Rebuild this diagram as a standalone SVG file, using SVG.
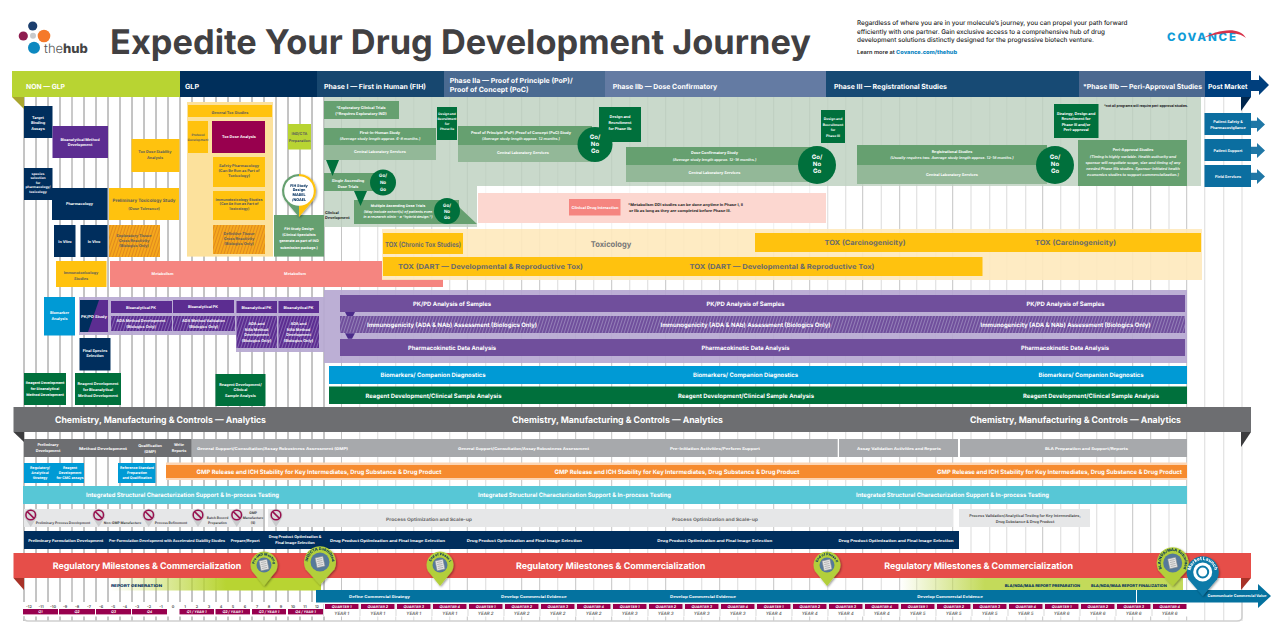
<svg xmlns="http://www.w3.org/2000/svg" xmlns:xlink="http://www.w3.org/1999/xlink" width="1280" height="636" viewBox="0 0 1280 636">
<style>
text{font-family:Inter,"Liberation Sans",sans-serif;font-weight:700;text-anchor:middle;font-size:3.8px;text-rendering:geometricPrecision}
.l{text-anchor:start}.w{fill:#fff}.d{fill:#5c5c5c}.k{fill:#222}.n{fill:#002e5d}.i{font-style:italic;font-weight:600}.b{font-weight:700}
.f5{font-size:5px}.f45{font-size:4.5px}.f35{font-size:3.6px}.f6{font-size:6px}.f7{font-size:7px}.f8{font-size:8px}.f9{font-size:9px}
.navy{fill:#002e5d}.pur{fill:#5c2d91}.yel{fill:#ffc20e}.grn{fill:#00703c}.mg{fill:#66a070}.lg{fill:#93b898}.blu{fill:#009ad5}.vio{fill:#704f9c}.mar{fill:#98004e}.sal{fill:#f58580}.gr{fill:#a7a9ac}.dg{fill:#6d6e71}.lgr{fill:#e6e7e8}.tl{fill:#0b6ea0}.tl2{fill:#1f77a6}.bar{fill:#04729f}
.hatO{fill:url(#hO)}.hatP{fill:url(#hP)}.hatV{fill:url(#hV)}
.qt{fill:#fff;font-size:3.6px;font-weight:700;font-style:italic}.yr{fill:#6a6a6a;font-size:4.4px;font-style:italic;font-weight:600}.rn{fill:#555;font-size:3.8px}
</style>
<defs>
<pattern id="hO" width="3" height="6" patternUnits="userSpaceOnUse" patternTransform="rotate(18)"><rect width="3" height="6" fill="#f5a81c"/><rect width="1" height="6" fill="#e08a1e"/></pattern>
<pattern id="hP" width="3" height="6" patternUnits="userSpaceOnUse" patternTransform="rotate(18)"><rect width="3" height="6" fill="#5c2d91"/><rect width="1" height="6" fill="#8466b0"/></pattern>
<pattern id="hV" width="3" height="6" patternUnits="userSpaceOnUse" patternTransform="rotate(18)"><rect width="3" height="6" fill="#704f9c"/><rect width="1" height="6" fill="#9480b8"/></pattern>
<linearGradient id="g1"><stop offset="0" stop-color="#b8d432" stop-opacity="0"/><stop offset=".55" stop-color="#b8d432"/></linearGradient>
<linearGradient id="g2"><stop offset="0" stop-color="#c3da5a" stop-opacity="0"/><stop offset=".3" stop-color="#c3da5a"/></linearGradient>
<filter id="sh" x="-30%" y="-30%" width="160%" height="160%"><feDropShadow dx="1" dy="1" stdDeviation="1.2" flood-color="#000" flood-opacity=".4"/></filter>
<path id="a1" d="M255.8 569.7A9.5 9.5 0 1 1 272.2 569.7"/>
<path id="a2" d="M309.6 568A12 12 0 1 1 330.4 568"/>
<path id="a3" d="M431.8 569.7A9.5 9.5 0 1 1 448.2 569.7"/>
<path id="a4" d="M818.8 569.7A9.5 9.5 0 1 1 835.2 569.7"/>
<path id="a5" d="M1162.3 569A12 12 0 1 1 1183.1 569"/>
<path id="a6" d="M1192.3 578A12 12 0 1 1 1213.1 578"/>
<g id="nopin"><path d="M-6.2 2.2A6.5 6.5 0 1 1 6.2 2.2L0 12Z" fill="#c9cacc"/><circle r="4.8" fill="#d9dadc" stroke="#98104e" stroke-width="1.5"/><path d="M-3.4-3.4L3.4 3.4" stroke="#98104e" stroke-width="1.5"/></g>
<g id="doc"><rect x="-4" y="-5" width="8" height="10" fill="#e4e4e4" stroke="#888" stroke-width=".5" transform="rotate(-12)"/><path d="M-2.6-3H2.6M-2.6-1H2.6M-2.6 1H2.6M-2.6 3H2.6" stroke="#999" stroke-width=".6" transform="rotate(-12)"/></g>
</defs>
<rect width="1280" height="636" fill="#fff"/>

<g id="grid" fill="none">
<path stroke="#8a8a8a" stroke-width="1" d="M24 97V621M36 97V621M48 97V621M60 97V621M84 97V621M96 97V621M108 97V621M120 97V621M132 97V621M144 97V621M156 97V621M168 97V621M180 97V621M192 97V621M204 97V621M216 97V621M228 97V621M240 97V621M252 97V621M264 97V621M276 97V621M288 97V621M300 97V621M312 97V621M324 97V621"/>
<path stroke="#bdbdbd" stroke-width="1.6" d="M72 97V621"/>
<path stroke="#c4c4c4" stroke-width="1" d="M341.5 97V621M467.3 97V621M521.7 97V621M539.7 97V621M575.7 97V621M611.7 97V621M665.7 97V621M719.7 97V621M773.7 97V621M809.7 97V621M862.7 97V621M899.7 97V621M952.7 97V621M1042.7 97V621M1132.7 97V621M1150.7 97V621M1186.7 97V621"/>
<path stroke="#e2e2e2" stroke-width="1.2" d="M359.7 97V621M377.7 97V621M395.7 97V621M413.7 97V621M431.7 97V621M449.7 97V621M485.7 97V621M503.7 97V621M557.7 97V621M593.7 97V621M629.7 97V621M647.7 97V621M683.7 97V621M701.7 97V621M737.7 97V621M755.7 97V621M791.7 97V621M827.7 97V621M845.7 97V621M881.3 97V621M916.7 97V621M935.7 97V621M971 97V621M989.7 97V621M1006.7 97V621M1025.7 97V621M1060.7 97V621M1079.3 97V621M1096.7 97V621M1115 97V621M1169 97V621M1204.7 97V621M1223.7 97V621M1242 97V621"/>
</g>

<g id="logo">
<circle cx="32.7" cy="26" r="4.6" fill="#1c3f6e"/><circle cx="44" cy="36" r="6.3" fill="#f5792a"/><circle cx="23.3" cy="36" r="4.6" fill="#8e1d4f"/><circle cx="33" cy="35.7" r="3" fill="#c8c9cb"/><circle cx="34" cy="47.7" r="6" fill="#0d88c0"/>
<text x="44" y="53" class="l" style="font-size:13px;font-weight:300;fill:#555">the<tspan style="font-weight:800;fill:#444">hub</tspan></text>
</g>
<text id="title" x="110" y="54" class="l" textLength="701" lengthAdjust="spacingAndGlyphs" style="font-size:34px;font-weight:700;fill:#414042">Expedite Your Drug Development Journey</text>
<g id="intro">
<text class="l k" x="857" y="25" textLength="270.5" lengthAdjust="spacingAndGlyphs" style="font-size:6.4px;font-weight:500">Regardless of where you are in your molecule’s journey, you can propel your path forward</text>
<text class="l k" x="857" y="33.5" textLength="248" lengthAdjust="spacingAndGlyphs" style="font-size:6.4px;font-weight:500">efficiently with one partner. Gain exclusive access to a comprehensive hub of drug</text>
<text class="l k" x="857" y="42" textLength="237" lengthAdjust="spacingAndGlyphs" style="font-size:6.4px;font-weight:500">development solutions distinctly designed for the progressive biotech venture.</text>
<text class="l k" x="857" y="54" textLength="100" lengthAdjust="spacingAndGlyphs" style="font-size:5.5px;font-weight:600">Learn more at <tspan style="fill:#0a85c2;font-weight:800">Covance.com/thehub</tspan></text>
</g>
<g id="covance">
<text x="1201.5" y="41" textLength="69" style="font-size:11.5px;font-weight:800;fill:#0f9bd7">COVANCE</text>
<path d="M1203 38C1216 31 1238 25 1246 38C1236 30 1218 33 1203 38Z" fill="#d8334a"/>
</g>

<g id="green-panel"><path d="M324 97H1201V186H477V227H324Z" fill="#bcd0be" fill-opacity=".8"/></g>
<g id="pink-panel"><rect x="477" y="186" width="350" height="43" fill="#fff" fill-opacity=".75"/><rect x="478" y="193" width="348" height="30" fill="#fcd5cd" fill-opacity=".95"/>
<text class="l k" x="628" y="206" textLength="115" lengthAdjust="spacingAndGlyphs">*Metabolism DDI studies can be done anytime in Phase I, II</text>
<text class="l k" x="629" y="211.5" textLength="102" lengthAdjust="spacingAndGlyphs">or IIb as long as they are completed before Phase III.</text></g>
<g id="clinical-drug-interaction"><rect class="sal" x="569" y="199" width="51.5" height="16.5"/><text class="w" x="595" y="208.5" textLength="47" lengthAdjust="spacingAndGlyphs">Clinical Drug Interaction</text></g>

<g id="header">
<rect x="12" y="71" width="168" height="26" fill="#b8d432"/><rect x="180" y="71" width="137" height="26" fill="#002f5b"/><rect x="317" y="71" width="127" height="26" fill="#17476f"/><rect x="444" y="71" width="161" height="26" fill="#4a6a91"/><rect x="605" y="71" width="221" height="26" fill="#647ba3"/><rect x="826" y="71" width="253" height="26" fill="#174a74"/><rect x="1079" y="71" width="126" height="26" fill="#4c6990"/><rect x="1205" y="71" width="46" height="26" fill="#003f7d"/>
<path d="M1251 80H1259V75L1269 85L1259 95V91H1251Z" fill="#003f7d"/>
<path d="M12 97H24V109Z" fill="#a9a62e"/><path d="M1241 97H1251L1241 111Z" fill="#00264d"/>
<text class="l w f7 b" x="26" y="89" textLength="39" lengthAdjust="spacingAndGlyphs">NON — GLP</text>
<text class="l w f7 b" x="185" y="89" textLength="14" lengthAdjust="spacingAndGlyphs">GLP</text>
<text class="l w f7 b" x="324" y="89" textLength="102" lengthAdjust="spacingAndGlyphs">Phase I — First in Human (FIH)</text>
<text class="l w f7 b" x="449.7" y="83" textLength="123" lengthAdjust="spacingAndGlyphs">Phase IIa — Proof of Principle (PoP)/</text>
<text class="l w f7 b" x="449.7" y="91.5" textLength="79" lengthAdjust="spacingAndGlyphs">Proof of Concept (PoC)</text>
<text class="l w f7 b" x="612.7" y="89" textLength="104.5" lengthAdjust="spacingAndGlyphs">Phase IIb — Dose Confirmatory</text>
<text class="l w f7 b" x="834" y="89" textLength="113" lengthAdjust="spacingAndGlyphs">Phase III — Registrational Studies</text>
<text class="l w f7 b" x="1083" y="89" textLength="119" lengthAdjust="spacingAndGlyphs">*Phase IIIb — Peri-Approval Studies</text>
<text class="l w f7 b" x="1208" y="89" textLength="39.5" lengthAdjust="spacingAndGlyphs">Post Market</text>
</g>

<!-- NON-GLP -->
<g id="target-binding"><rect class="navy" x="24" y="106" width="28.5" height="32"/><text class="w"><tspan x="38" y="119">Target</tspan><tspan x="38" y="124">Binding</tspan><tspan x="38" y="129.5">Assays</tspan></text></g>
<g id="bio-method"><rect class="pur" x="52.5" y="126" width="55.5" height="32"/><text class="w"><tspan x="80" y="140.5">Bioanalytical Method</tspan><tspan x="80" y="145.5">Development</tspan></text></g>
<g id="tox-dose-stability"><rect class="yel" x="131.5" y="139" width="48" height="33"/><text class="d"><tspan x="155" y="153">Tox Dose Stability</tspan><tspan x="155" y="159">Analysis</tspan></text></g>
<g id="species-selection"><rect class="navy" x="24" y="168" width="28.5" height="32"/><text class="w" style="font-size:3.4px"><tspan x="38" y="174.5">species</tspan><tspan x="38" y="179.1">selection</tspan><tspan x="38" y="183.7">for</tspan><tspan x="38" y="188.3">pharmacology/</tspan><tspan x="38" y="192.9">toxicology</tspan></text></g>
<g id="pharmacology"><rect class="navy" x="52" y="188" width="55.5" height="32"/><text class="w" x="79.5" y="205">Pharmacology</text></g>
<g id="prelim-tox"><rect class="yel" x="109" y="188" width="70" height="32"/><text class="d"><tspan x="144" y="202" style="font-size:4.4px">Preliminary Toxicology Study</tspan><tspan x="144" y="210">(Dose Tolerance)</tspan></text></g>
<g id="in-vitro"><rect class="navy" x="54" y="225" width="21.5" height="32"/><text class="w" x="65" y="243">In Vitro</text></g>
<g id="in-vivo"><rect class="navy" x="80.5" y="225" width="27" height="32"/><text class="w" x="94" y="243">In Vivo</text></g>
<g id="exploratory-tissue"><rect class="hatO" x="109" y="225" width="51" height="32"/><text class="d"><tspan x="134" y="236.5">Exploratory Tissue</tspan><tspan x="134" y="241.5">Cross Reactivity</tspan><tspan x="134" y="246.5">(Biologics Only)</tspan></text></g>
<g id="immunotox"><rect class="yel" x="56" y="261" width="50.5" height="26"/><text class="d"><tspan x="81" y="273.5">Immunotoxicology</tspan><tspan x="81" y="280">Studies</tspan></text></g>
<g id="metabolism"><path class="sal" d="M110 261H382V279H443V287H110Z"/><text class="w" x="162.5" y="275">Metabolism</text><text class="w" x="295" y="275">Metabolism</text></g>

<!-- GLP -->
<g id="general-tox-panel"><rect x="187" y="102" width="86" height="154.6" fill="#fce19c"/><rect class="yel" x="188" y="105" width="84" height="12"/><text class="d" x="230" y="113.5">General Tox Studies</text></g>
<g id="protocol-dev"><rect class="yel" x="188" y="121" width="20" height="32"/><text class="d" style="font-size:3.2px"><tspan x="198" y="135.5">Protocol</tspan><tspan x="198" y="140.5">Development</tspan></text></g>
<g id="tox-dose-analysis"><rect class="mar" x="212" y="121" width="53" height="32"/><text class="w" x="239" y="138">Tox Dose Analysis</text></g>
<g id="safety-pharm"><rect class="yel" x="213" y="157" width="52" height="30"/><text class="d"><tspan x="239" y="167">Safety Pharmacology</tspan><tspan x="239" y="172">(Can Be Run as Part of</tspan><tspan x="239" y="177">Toxicology)</tspan></text></g>
<g id="immuno-studies"><rect class="yel" x="213" y="191" width="52" height="29"/><text class="d" style="font-size:3.6px"><tspan x="239" y="200.5">Immunotoxicology Studies</tspan><tspan x="239" y="205.3">(Can Be Run as Part of</tspan><tspan x="239" y="210.1">Toxicology)</tspan></text></g>
<g id="definitive-tissue"><rect class="hatO" x="213" y="225" width="52" height="29"/><text class="d"><tspan x="239" y="235">Definitive Tissue</tspan><tspan x="239" y="240">Cross Reactivity</tspan><tspan x="239" y="245">(Biologics Only)</tspan></text></g>
<g id="ind-cta"><rect x="288" y="124" width="23" height="25.5" fill="#b8d432"/><text class="d"><tspan x="299.5" y="134.5">IND/CTA</tspan><tspan x="299.5" y="141.5">Preparation</tspan></text></g>
<g id="fih-box"><rect class="mg" x="274" y="215" width="50" height="41.6"/><text class="w" style="font-size:3.5px"><tspan x="299" y="230">FIH Study Design</tspan><tspan x="299" y="236">(Clinical Specialists</tspan><tspan x="299" y="242">generate as part of IND</tspan><tspan x="299" y="248.5">submission package.)</tspan></text></g>
<g id="fih-pin" filter="url(#sh)"><path d="M299 217L288 204A17 17 0 0 1 299 174Z" fill="#66a070"/><path d="M299 217L310 204A17 17 0 0 0 299 174Z" fill="#ffc20e"/><circle cx="299" cy="191" r="14.8" fill="#fff"/><text class="n" style="font-size:3.7px;font-weight:800"><tspan x="299" y="186.5">FIH Study</tspan><tspan x="299" y="191.3">Design</tspan><tspan x="299" y="196.1">MABEL</tspan><tspan x="299" y="200.9">/NOAEL</tspan></text></g>

<!-- Phase I -->
<g id="exploratory-trials"><rect class="mg" x="324" y="101" width="75" height="18"/><text class="w"><tspan x="361" y="108.5">*Exploratory Clinical Trials</tspan><tspan x="361" y="114.5">(*Requires Exploratory IND)</tspan></text></g>
<g id="fih-study"><rect class="mg" x="324" y="128" width="112" height="17"/><rect class="lg" x="324" y="145" width="112" height="15"/><text class="w"><tspan x="380" y="134">First-in-Human Study</tspan><tspan x="380" y="140" class="i">(Average study length approx. 6-8 months.)</tspan><tspan x="380" y="152.5">Central Laboratory Services</tspan></text></g>
<g id="single-ascending"><rect class="mg" x="324" y="173" width="59" height="18"/><text class="w"><tspan x="348" y="182">Single Ascending</tspan><tspan x="348" y="187.5">Dose Trials</tspan></text></g>
<g id="go1"><circle class="grn" cx="383" cy="182.5" r="13"/><text class="w f45"><tspan x="383" y="177">Go/</tspan><tspan x="383" y="184">No</tspan><tspan x="383" y="191">Go</tspan></text></g>
<g id="multiple-ascending"><path class="mg" d="M354 200H459V207L477 224H354Z"/><text class="w" style="font-size:3.6px"><tspan x="398" y="207">Multiple Ascending Dose Trials</tspan><tspan x="398" y="212.5" class="i">(May include cohort(s) of patients even</tspan><tspan x="398" y="217.5" class="i">in a research clinic - a “hybrid design.”)</tspan></text></g>
<g id="go2"><circle class="grn" cx="447" cy="211" r="13"/><text class="w f45"><tspan x="447" y="206.5">Go/</tspan><tspan x="447" y="212.5">No</tspan><tspan x="447" y="219">Go</tspan></text></g>
<text id="clinical-dev" class="k"><tspan class="l" x="325" y="213.5">Clinical</tspan><tspan class="l" x="325" y="218.5">Development</tspan></text>
<g id="design-iia"><rect class="grn" x="437" y="107" width="20" height="33"/><text class="w" style="font-size:3.2px"><tspan x="447" y="115">Design and</tspan><tspan x="447" y="120">Recruitment</tspan><tspan x="447" y="125">for</tspan><tspan x="447" y="130">Phase IIa</tspan></text></g>
<g id="poc-study"><rect class="mg" x="458" y="126" width="134" height="19"/><rect class="lg" x="458" y="145" width="134" height="17"/><text class="w"><tspan x="521" y="133.5">Proof of Principle (PoP) /Proof of Concept (PoC) Study</tspan><tspan x="521" y="139.5" class="i">(Average study length approx. 12 months.)</tspan><tspan x="523" y="154">Central Laboratory Services</tspan></text></g>
<g id="design-iib"><rect class="grn" x="599" y="107" width="42" height="35"/><text class="w"><tspan x="620" y="118">Design and</tspan><tspan x="620" y="124">Recruitment</tspan><tspan x="620" y="129.5">for Phase IIb</tspan></text></g>
<g id="go3"><circle class="grn" cx="595" cy="144.5" r="17.5"/><text class="w f6"><tspan x="595" y="139">Go/</tspan><tspan x="595" y="146">No</tspan><tspan x="595" y="153">Go</tspan></text></g>
<g id="dose-confirmatory"><rect class="mg" x="626" y="147" width="186" height="18"/><rect class="lg" x="626" y="165" width="186" height="17"/><text class="w"><tspan x="714.5" y="154">Dose Confirmatory Study</tspan><tspan x="714.5" y="160.5" class="i">(Average study length approx. 12-18 months.)</tspan><tspan x="714.5" y="174">Central Laboratory Services</tspan></text></g>
<g id="go4"><circle class="grn" cx="817" cy="165" r="19"/><text class="w f6"><tspan x="817" y="159">Go/</tspan><tspan x="817" y="166">No</tspan><tspan x="817" y="173">Go</tspan></text></g>
<g id="design-iii"><rect class="grn" x="821" y="110" width="24" height="33"/><text class="w" style="font-size:3.4px"><tspan x="833" y="120">Design and</tspan><tspan x="833" y="125.5">Recruitment</tspan><tspan x="833" y="131">for</tspan><tspan x="833" y="137">Phase III</tspan></text></g>
<g id="registrational"><rect class="mg" x="857" y="145" width="190" height="20"/><rect class="lg" x="857" y="165" width="190" height="19"/><text class="w"><tspan x="952" y="153">Registrational Studies</tspan><tspan x="952" y="159" class="i">(Usually requires two. Average study length approx. 12-18 months.)</tspan><tspan x="952" y="175.5">Central Laboratory Services</tspan></text></g>
<g id="go5"><circle class="grn" cx="1055" cy="165" r="19"/><text class="w f6"><tspan x="1055" y="159">Go/</tspan><tspan x="1055" y="166">No</tspan><tspan x="1055" y="173">Go</tspan></text></g>
<g id="design-peri"><rect class="grn" x="1054" y="104" width="44.5" height="34"/><text class="w"><tspan x="1076" y="114.5">Strategy, Design and</tspan><tspan x="1076" y="120">Recruitment for</tspan><tspan x="1076" y="125.5">Phase III and/or</tspan><tspan x="1076" y="131">Peri-approval</tspan></text></g>
<text id="peri-note" class="l k b" x="1104" y="107" textLength="84" lengthAdjust="spacingAndGlyphs" style="font-size:3.6px">*not all programs will require peri-approval studies.</text>
<g id="peri-approval"><rect class="mg" x="1078" y="140" width="109" height="46"/><text class="w"><tspan x="1133" y="151">Peri-Approval Studies</tspan><tspan x="1133" y="157.5" class="i">(Timing is highly variable. Health authority and</tspan><tspan x="1133" y="163.5" class="i">sponsor will negotiate scope, size and timing of any</tspan><tspan x="1133" y="169.5" class="i">needed Phase IIIb studies. Sponsor-initiated health</tspan><tspan x="1133" y="176" class="i">economics studies to support commercialization.)</tspan></text></g>

<!-- Post market -->
<g id="post-safety"><path class="tl2" d="M1251 120.7H1257V117L1265 124.5L1257 132V128H1251Z"/><rect class="tl" x="1204.5" y="113" width="46.5" height="22"/><text class="w"><tspan x="1228" y="122.5">Patient Safety &amp;</tspan><tspan x="1228" y="129">Pharmacovigilance</tspan></text></g>
<g id="post-support"><path class="tl2" d="M1251 146.7H1257V143L1265 150.5L1257 158V154H1251Z"/><rect class="tl" x="1204.5" y="139" width="46.5" height="22"/><text class="w" x="1228" y="151.5">Patient Support</text></g>
<g id="post-field"><path class="tl2" d="M1251 172.7H1257V169L1265 176.5L1257 184V180H1251Z"/><rect class="tl" x="1204.5" y="165" width="46.5" height="22"/><text class="w" x="1228" y="177.5">Field Services</text></g>

<!-- Tox -->
<g id="toxicology-panel"><rect x="382" y="229" width="820" height="51" fill="#fee9bc" fill-opacity=".9"/><text class="f8 b" x="611" y="247" textLength="40.5" lengthAdjust="spacingAndGlyphs" style="fill:#777">Toxicology</text></g>
<g id="tox-chronic"><rect class="yel" x="383" y="233" width="80" height="21"/><text class="f7 b" x="423" y="246.5" textLength="76" lengthAdjust="spacingAndGlyphs" style="fill:#6b6b6b">TOX (Chronic Tox Studies)</text></g>
<g id="tox-carc"><rect class="yel" x="755" y="233" width="446" height="19"/><text class="f7 b" x="865" y="244.5" textLength="81" lengthAdjust="spacingAndGlyphs" style="fill:#6b6b6b">TOX (Carcinogenicity)</text><text class="f7 b" x="1075.5" y="244.5" textLength="81" lengthAdjust="spacingAndGlyphs" style="fill:#6b6b6b">TOX (Carcinogenicity)</text></g>
<g id="tox-dart"><rect class="yel" x="383" y="257" width="599.5" height="19"/><text class="f7 b" x="490.5" y="268.5" textLength="185" lengthAdjust="spacingAndGlyphs" style="fill:#6b6b6b">TOX (DART — Developmental &amp; Reproductive Tox)</text><text class="f7 b" x="782" y="268.5" textLength="185" lengthAdjust="spacingAndGlyphs" style="fill:#6b6b6b">TOX (DART — Developmental &amp; Reproductive Tox)</text></g>

<!-- PK/PD -->
<g id="purple-panels"><path d="M79 297H324V290H1187V363H324V352H236V335H79Z" fill="#b6a8d1" fill-opacity=".92"/></g>
<g id="biomarker-analysis"><rect class="blu" x="44" y="297" width="31" height="38.5"/><text class="w"><tspan x="59.5" y="314">Biomarker</tspan><tspan x="59.5" y="319.5">Analysis</tspan></text></g>
<g id="pkpd-study"><rect class="pur" x="80" y="300" width="28" height="32"/><path class="navy" d="M80 300H99L88 332H80Z"/><text class="w" x="94" y="318" textLength="26" lengthAdjust="spacingAndGlyphs">PK/PD Study</text></g>
<g id="final-species"><rect class="navy" x="79.5" y="338" width="31" height="32.5"/><text class="w"><tspan x="95" y="351.5">Final Species</tspan><tspan x="95" y="357">Selection</tspan></text></g>
<g id="bio-pk1"><rect class="pur" x="111" y="301" width="61" height="12"/><text class="w" x="141" y="308.5">Bioanalytical PK</text></g>
<g id="bio-pk2"><rect class="pur" x="173" y="300" width="61" height="13"/><text class="w" x="203" y="307.5">Bioanalytical PK</text></g>
<g id="bio-pk3"><rect class="pur" x="236.5" y="301" width="40.5" height="12"/><text class="w" x="256.5" y="308.5">Bioanalytical PK</text></g>
<g id="bio-pk4"><rect class="pur" x="278.5" y="301" width="40.5" height="12"/><text class="w" x="298.5" y="308.5">Bioanalytical PK</text></g>
<g id="ada-dev"><rect class="hatP" x="111" y="316" width="61" height="15"/><text class="w"><tspan x="141" y="322">ADA Method Development</tspan><tspan x="141" y="328">(Biologics Only)</tspan></text></g>
<g id="ada-val"><rect class="hatP" x="173" y="316" width="62" height="15"/><text class="w"><tspan x="203.5" y="322">ADA Method Validation</tspan><tspan x="203.5" y="328">(Biologics Only)</tspan></text></g>
<g id="ada-nab1"><rect class="hatP" x="236.5" y="316" width="40.5" height="32"/><text class="w"><tspan x="256.5" y="324.5">ADA and</tspan><tspan x="256.5" y="330.5">NAb Method</tspan><tspan x="256.5" y="336">Development</tspan><tspan x="256.5" y="342">(Biologics Only)</tspan></text></g>
<g id="ada-nab2"><rect class="hatP" x="278.5" y="316" width="40.5" height="32"/><text class="w"><tspan x="298.5" y="324.5">ADA and</tspan><tspan x="298.5" y="330.5">NAb Method</tspan><tspan x="298.5" y="336">Development</tspan><tspan x="298.5" y="342">(Biologics Only)</tspan></text></g>
<g id="pkpd-samples"><rect class="vio" x="340" y="295" width="845" height="17"/><text class="w f6" x="452" y="305.5" textLength="78" lengthAdjust="spacingAndGlyphs">PK/PD Analysis of Samples</text><text class="w f6" x="745.5" y="305.5" textLength="78" lengthAdjust="spacingAndGlyphs">PK/PD Analysis of Samples</text><text class="w f6" x="1065.5" y="305.5" textLength="78" lengthAdjust="spacingAndGlyphs">PK/PD Analysis of Samples</text></g>
<g id="immunogenicity"><rect class="hatV" x="340" y="316" width="845" height="17"/><text class="w f6" x="452" y="327" textLength="170" lengthAdjust="spacingAndGlyphs">Immunogenicity (ADA &amp; NAb) Assessment (Biologics Only)</text><text class="w f6" x="745.5" y="327" textLength="170" lengthAdjust="spacingAndGlyphs">Immunogenicity (ADA &amp; NAb) Assessment (Biologics Only)</text><text class="w f6" x="1065.5" y="327" textLength="170" lengthAdjust="spacingAndGlyphs">Immunogenicity (ADA &amp; NAb) Assessment (Biologics Only)</text></g>
<g id="pk-data"><rect class="vio" x="340" y="339" width="845" height="17"/><text class="w f6" x="452" y="350" textLength="88" lengthAdjust="spacingAndGlyphs">Pharmacokinetic Data Analysis</text><text class="w f6" x="745.5" y="350" textLength="88" lengthAdjust="spacingAndGlyphs">Pharmacokinetic Data Analysis</text><text class="w f6" x="1065" y="350" textLength="88" lengthAdjust="spacingAndGlyphs">Pharmacokinetic Data Analysis</text></g>
<g id="biomarkers-band"><rect class="blu" x="329" y="366" width="858" height="18"/><text class="w f6" x="433" y="377" textLength="105" lengthAdjust="spacingAndGlyphs">Biomarkers/ Companion Diagnostics</text><text class="w f6" x="745.5" y="377" textLength="105" lengthAdjust="spacingAndGlyphs">Biomarkers/ Companion Diagnostics</text><text class="w f6" x="1091" y="377" textLength="105" lengthAdjust="spacingAndGlyphs">Biomarkers/ Companion Diagnostics</text></g>
<g id="reagent-band"><rect class="grn" x="329" y="386.5" width="858" height="17.5"/><text class="w f6" x="433.5" y="397.5" textLength="136" lengthAdjust="spacingAndGlyphs">Reagent Development/Clinical Sample Analysis</text><text class="w f6" x="746" y="397.5" textLength="136" lengthAdjust="spacingAndGlyphs">Reagent Development/Clinical Sample Analysis</text><text class="w f6" x="1091" y="397.5" textLength="136" lengthAdjust="spacingAndGlyphs">Reagent Development/Clinical Sample Analysis</text></g>
<g id="reagent1"><rect class="grn" x="24" y="373" width="42" height="32"/><text class="w" style="font-size:3.6px"><tspan x="45" y="384">Reagent Development</tspan><tspan x="45" y="389.5">for Bioanalytical</tspan><tspan x="45" y="395.5">Method Development</tspan></text></g>
<g id="reagent2"><rect class="grn" x="75" y="373" width="46" height="32"/><text class="w"><tspan x="98" y="385">Reagent Development</tspan><tspan x="98" y="391">for Bioanalytical</tspan><tspan x="98" y="396.5">Method Development</tspan></text></g>
<g id="reagent3"><rect class="grn" x="215.5" y="374" width="50" height="32"/><text class="w"><tspan x="240.5" y="385.5">Reagent Development/</tspan><tspan x="240.5" y="391">Clinical</tspan><tspan x="240.5" y="396.5">Sample Analysis</tspan></text></g>

<!-- CMC -->
<g id="cmc-bar"><path d="M13.5 432H24V442Z" fill="#3c3c3e"/><path d="M1241 432H1251L1241 447Z" fill="#3c3c3e"/><rect class="dg" x="13.5" y="407" width="1237.5" height="25"/>
<text class="w f9 b" x="160.5" y="423" textLength="211" lengthAdjust="spacingAndGlyphs">Chemistry, Manufacturing &amp; Controls — Analytics</text><text class="w f9 b" x="617.5" y="423" textLength="211" lengthAdjust="spacingAndGlyphs">Chemistry, Manufacturing &amp; Controls — Analytics</text><text class="w f9 b" x="1075.5" y="423" textLength="211" lengthAdjust="spacingAndGlyphs">Chemistry, Manufacturing &amp; Controls — Analytics</text></g>
<g id="cmc-dev"><rect class="dg" x="24" y="439" width="167.7" height="18"/><text class="w"><tspan x="48" y="446">Preliminary</tspan><tspan x="48" y="451.5">Development</tspan></text><text class="w" x="103" y="450" textLength="48" lengthAdjust="spacingAndGlyphs">Method Development</text><text class="w"><tspan x="150" y="447">Qualification</tspan><tspan x="150" y="452.5">(GMP)</tspan></text><text class="w"><tspan x="179" y="446">Write</tspan><tspan x="179" y="452">Reports</tspan></text></g>
<g id="cmc-support"><rect class="gr" x="191.7" y="439" width="646" height="18"/><text class="w" x="272.5" y="449.5" textLength="151" lengthAdjust="spacingAndGlyphs">General Support/Consultation/Assay Robustness Assessment (GMP)</text><text class="w" x="523.5" y="449.5" textLength="131" lengthAdjust="spacingAndGlyphs">General Support/Consultation/Assay Robustness Assessment</text><text class="w" x="715" y="450" textLength="90" lengthAdjust="spacingAndGlyphs">Pre-Initiation Activities/Perform Support</text></g>
<g id="cmc-validation"><rect class="gr" x="839" y="439" width="119" height="18"/><text class="w" x="899" y="450" textLength="84" lengthAdjust="spacingAndGlyphs">Assay Validation Activities and Reports</text></g>
<g id="cmc-bla"><rect class="gr" x="960" y="439" width="227" height="18"/><text class="w" x="1086.5" y="450" textLength="83" lengthAdjust="spacingAndGlyphs">BLA Preparation and Support/Reports</text></g>
<g id="regulatory-strategy"><rect class="blu" x="24" y="463" width="60" height="20"/><text class="w" style="font-size:3.5px"><tspan x="40" y="468.5">Regulatory/</tspan><tspan x="40" y="473.5">Analytical</tspan><tspan x="40" y="479">Strategy</tspan><tspan x="70" y="468.5">Reagent</tspan><tspan x="70" y="473.5">Development</tspan><tspan x="70" y="479">for CMC assays</tspan></text></g>
<g id="reference-standard"><rect class="blu" x="118" y="463" width="37.5" height="20"/><text class="w" style="font-size:3.5px"><tspan x="137" y="468.5">Reference Standard</tspan><tspan x="137" y="473.5">Preparation</tspan><tspan x="137" y="479">and Qualification</tspan></text></g>
<g id="gmp-release"><rect x="166" y="462.5" width="1021" height="17.5" fill="#fcd5b4"/><rect x="166" y="465" width="1021" height="13" fill="#f68b2f"/><text class="w f6" x="319" y="474" textLength="245" lengthAdjust="spacingAndGlyphs">GMP Release and ICH Stability for Key Intermediates, Drug Substance &amp; Drug Product</text><text class="w f6" x="677" y="474" textLength="245" lengthAdjust="spacingAndGlyphs">GMP Release and ICH Stability for Key Intermediates, Drug Substance &amp; Drug Product</text><text class="w f6" x="1059.5" y="474" textLength="245" lengthAdjust="spacingAndGlyphs">GMP Release and ICH Stability for Key Intermediates, Drug Substance &amp; Drug Product</text></g>
<g id="integrated"><rect x="23" y="486" width="1164" height="18" fill="#57c7d6"/><text class="w f6" x="182.5" y="497" textLength="193" lengthAdjust="spacingAndGlyphs">Integrated Structural Characterization Support &amp; In-process Testing</text><text class="w f6" x="574.5" y="497" textLength="193" lengthAdjust="spacingAndGlyphs">Integrated Structural Characterization Support &amp; In-process Testing</text><text class="w f6" x="952.5" y="497" textLength="193" lengthAdjust="spacingAndGlyphs">Integrated Structural Characterization Support &amp; In-process Testing</text></g>
<g id="process-early"><rect class="lgr" x="24" y="509" width="239" height="18"/>
<text style="font-size:3.3px;fill:#444"><tspan x="63" y="524">Preliminary Process Development</tspan><tspan x="122.5" y="523.5">Non-GMP Manufacture</tspan><tspan x="171" y="524">Process Refinement</tspan><tspan x="217.5" y="519">Batch Record</tspan><tspan x="217.5" y="523.5">Preparation</tspan><tspan x="253" y="514">GMP</tspan><tspan x="253" y="519">Manufacture</tspan><tspan x="253" y="524">(S)</tspan></text>
<use href="#nopin" xlink:href="#nopin" x="30.7" y="515"/><use href="#nopin" xlink:href="#nopin" x="98.7" y="515"/><use href="#nopin" xlink:href="#nopin" x="148.7" y="515"/><use href="#nopin" xlink:href="#nopin" x="198" y="515"/><use href="#nopin" xlink:href="#nopin" x="236.7" y="515"/></g>
<g id="process-scale"><rect class="lgr" x="268" y="509" width="685" height="18"/><use href="#nopin" xlink:href="#nopin" x="276" y="515"/><text class="f45" x="429" y="520.5" textLength="86" lengthAdjust="spacingAndGlyphs" style="fill:#6a6a6a">Process Optimization and Scale-up</text><text class="f45" x="715" y="520.5" textLength="86" lengthAdjust="spacingAndGlyphs" style="fill:#6a6a6a">Process Optimization and Scale-up</text></g>
<g id="process-validation"><rect class="lgr" x="959" y="509" width="131" height="18"/><text style="fill:#555"><tspan x="1025" y="516.5">Process Validation/Analytical Testing for Key Intermediates,</tspan><tspan x="1025" y="522.5">Drug Substance &amp; Drug Product</tspan></text></g>
<g id="formulation-bar"><rect class="navy" x="24" y="531" width="935" height="18"/>
<text class="w" x="65.7" y="542" textLength="75" lengthAdjust="spacingAndGlyphs">Preliminary Formulation Development</text>
<text class="w" x="167" y="542" textLength="116" lengthAdjust="spacingAndGlyphs">Pre-Formulation Development with Accelerated Stability Studies</text>
<text class="w" x="245.3" y="542" textLength="29" lengthAdjust="spacingAndGlyphs">Prepare/Report</text>
<text class="w"><tspan x="295" y="537.5">Drug Product Optimization &amp;</tspan><tspan x="295" y="544">Final Image Selection</tspan></text>
<text class="w" x="387.5" y="542" textLength="115" lengthAdjust="spacingAndGlyphs">Drug Product Optimization and Final Image Selection</text>
<text class="w" x="524.3" y="542" textLength="115" lengthAdjust="spacingAndGlyphs">Drug Product Optimization and Final Image Selection</text>
<text class="w" x="714.8" y="542" textLength="115" lengthAdjust="spacingAndGlyphs">Drug Product Optimization and Final Image Selection</text>
<text class="w" x="896" y="542" textLength="115" lengthAdjust="spacingAndGlyphs">Drug Product Optimization and Final Image Selection</text></g>

<!-- Regulatory -->
<g id="report-gen"><rect x="110" y="578" width="211" height="12.5" fill="url(#g1)"/><text class="l n" x="111" y="586.5" textLength="51" lengthAdjust="spacingAndGlyphs" style="font-weight:800">REPORT GENERATION</text></g>
<g id="report-bla"><rect x="900" y="578" width="283" height="12.5" fill="url(#g2)"/><text class="l n" x="1004.7" y="586.5" textLength="75.3" lengthAdjust="spacingAndGlyphs" style="font-weight:800">BLA/NDA/MAA REPORT PREPARATION</text><text class="l n" x="1091" y="586.5" textLength="75.7" lengthAdjust="spacingAndGlyphs" style="font-weight:800">BLA/NDA/MAA REPORT FINALIZATION</text></g>
<g id="regulatory-bar"><path d="M13.5 578H24V590Z" fill="#a83228"/><path d="M1241 578H1251L1241 590Z" fill="#a83228"/><rect x="13.5" y="553" width="1237.5" height="25" fill="#e64e49"/>
<text class="w f9 b" x="147" y="569" textLength="188.6" lengthAdjust="spacingAndGlyphs">Regulatory Milestones &amp; Commercialization</text><text class="w f9 b" x="610.6" y="569" textLength="189.3" lengthAdjust="spacingAndGlyphs">Regulatory Milestones &amp; Commercialization</text><text class="w f9 b" x="978.6" y="569" textLength="188.7" lengthAdjust="spacingAndGlyphs">Regulatory Milestones &amp; Commercialization</text></g>

<g id="ruler">
<rect x="21" y="602" width="1172" height="14.5" fill="#fff"/>
<path d="M24 616V617Q24 621 28 621H1237Q1242 621 1242 617V600" fill="none" stroke="#cfcfcf" stroke-width="1.5"/>
<path d="M323.5 604V616M360 604V616M396 604V616M432 604V616M468 604V616M504 604V616M540 604V616M576 604V616M612 604V616M648 604V616M684 604V616M720 604V616M756 604V616M792 604V616M828 604V616M864 604V616M900 604V616M936 604V616M972 604V616M1008 604V616M1044 604V616M1080 604V616M1116 604V616M1152 604V616" stroke="#cfcfcf" stroke-width=".8" fill="none"/>
<text class="rn" x="29" y="607.5">-12</text><text class="rn" x="41" y="607.5">-11</text><text class="rn" x="53" y="607.5">-10</text><text class="rn" x="65" y="607.5">-9</text><text class="rn" x="77" y="607.5">-8</text><text class="rn" x="89" y="607.5">-7</text><text class="rn" x="101" y="607.5">-6</text><text class="rn" x="113" y="607.5">-5</text><text class="rn" x="125" y="607.5">-4</text><text class="rn" x="137" y="607.5">-3</text><text class="rn" x="149" y="607.5">-2</text><text class="rn" x="161" y="607.5">-1</text><text class="rn" x="173" y="607.5">0</text><text class="rn" x="185" y="607.5">1</text><text class="rn" x="197" y="607.5">2</text><text class="rn" x="209" y="607.5">3</text><text class="rn" x="221" y="607.5">4</text><text class="rn" x="233" y="607.5">5</text><text class="rn" x="245" y="607.5">6</text><text class="rn" x="257" y="607.5">7</text><text class="rn" x="269" y="607.5">8</text><text class="rn" x="281" y="607.5">9</text><text class="rn" x="293" y="607.5">10</text><text class="rn" x="305" y="607.5">11</text><text class="rn" x="317" y="607.5">12</text>
<g class="mar"><rect x="23" y="609" width="35" height="5.4"/><rect x="59" y="609" width="36" height="5.4"/><rect x="96" y="609" width="35" height="5.4"/><rect x="132" y="609" width="35" height="5.4"/><rect x="179.5" y="609" width="34.5" height="5.4"/><rect x="215.5" y="609" width="34.5" height="5.4"/><rect x="252" y="609" width="34" height="5.4"/><rect x="288" y="609" width="35" height="5.4"/></g>
<text class="qt" x="40.5" y="613.2">Q1</text><text class="qt" x="77" y="613.2">Q2</text><text class="qt" x="113.5" y="613.2">Q3</text><text class="qt" x="149.5" y="613.2">Q4</text><text class="qt" x="196.7" y="613.2">Q1 / YEAR 1</text><text class="qt" x="232.7" y="613.2">Q2 / YEAR 1</text><text class="qt" x="269" y="613.2">Q3 / YEAR 1</text><text class="qt" x="305.5" y="613.2">Q4 / YEAR 1</text>
<g class="mar"><rect x="325" y="604" width="33.5" height="5"/><rect x="361" y="604" width="33.5" height="5"/><rect x="397" y="604" width="33.5" height="5"/><rect x="433" y="604" width="33.5" height="5"/><rect x="469" y="604" width="33.5" height="5"/><rect x="505" y="604" width="33.5" height="5"/><rect x="541" y="604" width="33.5" height="5"/><rect x="577" y="604" width="33.5" height="5"/><rect x="613" y="604" width="33.5" height="5"/><rect x="649" y="604" width="33.5" height="5"/><rect x="685" y="604" width="33.5" height="5"/><rect x="721" y="604" width="33.5" height="5"/><rect x="757" y="604" width="33.5" height="5"/><rect x="793" y="604" width="33.5" height="5"/><rect x="829" y="604" width="33.5" height="5"/><rect x="865" y="604" width="33.5" height="5"/><rect x="901" y="604" width="33.5" height="5"/><rect x="937" y="604" width="33.5" height="5"/><rect x="973" y="604" width="33.5" height="5"/><rect x="1009" y="604" width="33.5" height="5"/><rect x="1045" y="604" width="33.5" height="5"/><rect x="1081" y="604" width="33.5" height="5"/><rect x="1117" y="604" width="33.5" height="5"/><rect x="1153" y="604" width="33.5" height="5"/></g>
<text class="qt" x="341.7" y="608">QUARTER 1</text><text class="qt" x="377.7" y="608">QUARTER 2</text><text class="qt" x="413.7" y="608">QUARTER 3</text><text class="qt" x="449.7" y="608">QUARTER 4</text><text class="qt" x="485.7" y="608">QUARTER 1</text><text class="qt" x="521.7" y="608">QUARTER 2</text><text class="qt" x="557.7" y="608">QUARTER 3</text><text class="qt" x="593.7" y="608">QUARTER 4</text><text class="qt" x="629.7" y="608">QUARTER 1</text><text class="qt" x="665.7" y="608">QUARTER 2</text><text class="qt" x="701.7" y="608">QUARTER 3</text><text class="qt" x="737.7" y="608">QUARTER 4</text><text class="qt" x="773.7" y="608">QUARTER 1</text><text class="qt" x="809.7" y="608">QUARTER 2</text><text class="qt" x="845.7" y="608">QUARTER 3</text><text class="qt" x="881.7" y="608">QUARTER 4</text><text class="qt" x="917.7" y="608">QUARTER 1</text><text class="qt" x="953.7" y="608">QUARTER 2</text><text class="qt" x="989.7" y="608">QUARTER 3</text><text class="qt" x="1025.7" y="608">QUARTER 4</text><text class="qt" x="1061.7" y="608">QUARTER 1</text><text class="qt" x="1097.7" y="608">QUARTER 2</text><text class="qt" x="1133.7" y="608">QUARTER 3</text><text class="qt" x="1169.7" y="608">QUARTER 4</text>
<text class="yr" x="341.7" y="614.5">YEAR 1</text><text class="yr" x="377.7" y="614.5">YEAR 1</text><text class="yr" x="413.7" y="614.5">YEAR 1</text><text class="yr" x="449.7" y="614.5">YEAR 1</text><text class="yr" x="485.7" y="614.5">YEAR 2</text><text class="yr" x="521.7" y="614.5">YEAR 2</text><text class="yr" x="557.7" y="614.5">YEAR 2</text><text class="yr" x="593.7" y="614.5">YEAR 2</text><text class="yr" x="629.7" y="614.5">YEAR 3</text><text class="yr" x="665.7" y="614.5">YEAR 3</text><text class="yr" x="701.7" y="614.5">YEAR 3</text><text class="yr" x="737.7" y="614.5">YEAR 3</text><text class="yr" x="773.7" y="614.5">YEAR 4</text><text class="yr" x="809.7" y="614.5">YEAR 4</text><text class="yr" x="845.7" y="614.5">YEAR 4</text><text class="yr" x="881.7" y="614.5">YEAR 4</text><text class="yr" x="917.7" y="614.5">YEAR 5</text><text class="yr" x="953.7" y="614.5">YEAR 5</text><text class="yr" x="989.7" y="614.5">YEAR 5</text><text class="yr" x="1025.7" y="614.5">YEAR 5</text><text class="yr" x="1061.7" y="614.5">YEAR 6</text><text class="yr" x="1097.7" y="614.5">YEAR 6</text><text class="yr" x="1133.7" y="614.5">YEAR 6</text><text class="yr" x="1169.7" y="614.5">YEAR 6</text>
</g>

<g id="commercial-bar"><rect class="bar" x="316" y="590" width="820" height="12.5"/><path class="bar" d="M1137 590H1258V584L1271 596L1258 608V602.5H1137Z"/>
<text class="w" x="379.5" y="598" textLength="61" lengthAdjust="spacingAndGlyphs">Define Commercial Strategy</text><text class="w" x="533.8" y="598" textLength="65.7" lengthAdjust="spacingAndGlyphs">Develop Commercial Evidence</text><text class="w" x="703" y="598" textLength="66" lengthAdjust="spacingAndGlyphs">Develop Commercial Evidence</text><text class="w" x="950" y="598" textLength="65.7" lengthAdjust="spacingAndGlyphs">Develop Commercial Evidence</text><text class="w" x="1237" y="597" textLength="59" lengthAdjust="spacingAndGlyphs">Communicate Commercial Value</text></g>

<g id="pin-pre-ind" filter="url(#sh)"><path d="M264 586L251.9 571A13.5 13.5 0 1 1 276.1 571Z" fill="#b2cf3a"/><circle cx="264" cy="565" r="7.5" fill="#55799a"/><use href="#doc" xlink:href="#doc" x="264" y="565"/><text class="n" style="font-size:3.4px;font-weight:800"><textPath href="#a1" xlink:href="#a1" startOffset="50%">Pre-IND Meeting</textPath></text></g>
<g id="pin-ind-submitted" filter="url(#sh)"><path d="M320 585L305.6 569.2A16 16 0 1 1 334.4 569.2Z" fill="#b2cf3a"/><circle cx="320" cy="562" r="9.5" fill="#55799a"/><use href="#doc" xlink:href="#doc" x="320" y="562"/><text class="n" style="font-size:3.8px;font-weight:800"><textPath href="#a2" xlink:href="#a2" startOffset="50%">IND/CTA Submitted</textPath></text></g>
<g id="pin-eop1" filter="url(#sh)"><path d="M440 586L427.9 571A13.5 13.5 0 1 1 452.1 571Z" fill="#b2cf3a"/><circle cx="440" cy="565" r="7.5" fill="#55799a"/><use href="#doc" xlink:href="#doc" x="440" y="565"/><text class="n" style="font-size:3.4px;font-weight:800"><textPath href="#a3" xlink:href="#a3" startOffset="50%">End of Phase I</textPath></text></g>
<g id="pin-eop2" filter="url(#sh)"><path d="M827 586L814.9 571A13.5 13.5 0 1 1 839.1 571Z" fill="#b2cf3a"/><circle cx="827" cy="565" r="7.5" fill="#55799a"/><use href="#doc" xlink:href="#doc" x="827" y="565"/><text class="n" style="font-size:3.4px;font-weight:800"><textPath href="#a4" xlink:href="#a4" startOffset="50%">End of Phase II</textPath></text></g>
<g id="pin-bla" filter="url(#sh)"><path d="M1172.7 586L1158.3 570.2A16 16 0 1 1 1187.1 570.2Z" fill="#b2cf3a"/><circle cx="1172.7" cy="563" r="9.5" fill="#55799a"/><use href="#doc" xlink:href="#doc" x="1172.7" y="563"/><text class="n" style="font-size:3.8px;font-weight:800"><textPath href="#a5" xlink:href="#a5" startOffset="50%">BLA/NDA/MAA Submitted</textPath></text></g>
<g id="pin-launch" filter="url(#sh)"><path d="M1202.7 596L1188.3 579.2A16 16 0 1 1 1217.1 579.2Z" fill="#0e7aa8"/><circle cx="1202.7" cy="572" r="9.5" fill="#fff"/><circle cx="1202.7" cy="572" r="5.5" fill="none" stroke="#0e7aa8" stroke-width="2"/><text class="w" style="font-size:4.6px;font-weight:800"><textPath href="#a6" xlink:href="#a6" startOffset="50%">Market Launch</textPath></text></g>

<g id="connectors">
<path class="grn" d="M326 160H339L332.5 176Z"/>
<path class="grn" d="M354 191H367L360.5 206Z"/>
<path fill="#4b2b8a" d="M345 312H355L353 316H347Z"/>
<path fill="#4b2b8a" d="M345 333.3H355L352 338.7H348Z"/>
<path stroke="#fff" stroke-width="1" d="M1136.5 590V602.5"/>
</g>
</svg>
